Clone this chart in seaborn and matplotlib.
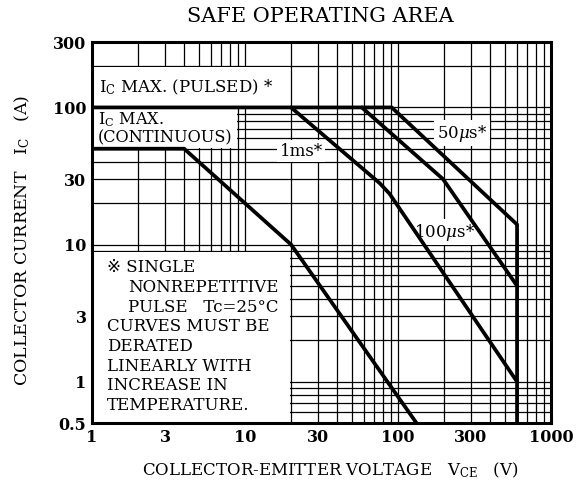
import matplotlib
matplotlib.use("Agg")
import numpy as np
import pandas as pd
import seaborn as sns
import matplotlib.pyplot as plt
from matplotlib.ticker import LogLocator, NullFormatter
from matplotlib.patches import Rectangle

# ---------------- data ----------------
boundary_v = [1, 91, 600, 600]          # Ic max (pulsed) + 50us + Vceo limit
boundary_i = [100, 100, 14, 0.5]
ms1_v = [20, 76, 88, 600]
ms1_i = [100, 28, 23.5, 1]
us100_v = [58, 197, 600]
us100_i = [100, 30, 5]
dc_v = [1, 4, 20, 132]
dc_i = [50, 50, 10, 0.5]

x_ticks = [1, 3, 10, 30, 100, 300, 1000]
y_ticks = [0.5, 1, 3, 10, 30, 100, 300]
x_tick_labels = ["1", "3", "10", "30", "100", "300", "1000"]
y_tick_labels = ["0.5", "1", "3", "10", "30", "100", "300"]

note_lines = ["※ SINGLE", "NONREPETITIVE", "PULSE   Tc=25°C", "CURVES MUST BE",
              "DERATED", "LINEARLY WITH", "INCREASE IN", "TEMPERATURE."]
note_indent = [False, True, True, False, False, False, False, False]

series = {"boundary": (boundary_v, boundary_i), "1ms": (ms1_v, ms1_i),
          "100us": (us100_v, us100_i), "dc": (dc_v, dc_i)}
df = pd.concat([pd.DataFrame({"v": v, "i": i, "s": k, "o": range(len(v))})
                for k, (v, i) in series.items()], ignore_index=True)

# ---------------- style ----------------
sns.set_theme(style="white")
plt.rcParams["font.family"] = ["DejaVu Serif", "DejaVu Sans"]
plt.rcParams["mathtext.fontset"] = "dejavuserif"
plt.rcParams["text.color"] = "black"

W, H = 582, 490
fig = plt.figure(figsize=(W / 100, H / 100), dpi=100)
L, R, T, B = 92, 551, 42, 423
ax = fig.add_axes([L / W, 1 - B / H, (R - L) / W, (B - T) / H])

def frac(px, py):
    return ((px - L) / (R - L), (B - py) / (B - T))

ax.set_xscale("log")
ax.set_yscale("log")
ax.set_xlim(1, 1000)
ax.set_ylim(0.5, 300)

for k in series:
    sub = df[df.s == k]
    sns.lineplot(data=sub, x="v", y="i", sort=False, estimator=None,
                 color="black", lw=2.7, ax=ax, zorder=3, legend=False)

ax.set_xticks(x_ticks, x_tick_labels)
ax.set_yticks(y_ticks, y_tick_labels)
ax.xaxis.set_minor_locator(LogLocator(base=10, subs=np.arange(2, 10)))
ax.yaxis.set_minor_locator(LogLocator(base=10, subs=np.arange(2, 10)))
ax.xaxis.set_minor_formatter(NullFormatter())
ax.yaxis.set_minor_formatter(NullFormatter())
ax.set_axisbelow(True)
ax.grid(which="both", color="black", lw=0.9)
ax.tick_params(which="both", length=0, labelsize=11.5, pad=4, colors="black")
for lab in ax.get_xticklabels() + ax.get_yticklabels():
    lab.set_fontweight("bold")
for s in ax.spines.values():
    s.set_color("black")
    s.set_linewidth(2.2)
    s.set_visible(True)
ax.set_xlabel("")
ax.set_ylabel("")

# white masks behind the text blocks
for (x0, x1, y0, y1) in [(1, 19.7, 102, 196), (1, 8.9, 51, 98.5), (1, 19.6, 0.5, 8.85)]:
    ax.add_patch(Rectangle((x0, y0), x1 - x0, y1 - y0, facecolor="white",
                           edgecolor="none", zorder=1))

fs = 12
ax.text(*frac(99, 87), r"I$_\mathregular{C}$ MAX. (PULSED) *", transform=ax.transAxes,
        ha="left", va="center", fontsize=fs, zorder=4)
ax.text(*frac(98, 120), r"I$_\mathregular{C}$ MAX.", transform=ax.transAxes,
        ha="left", va="center", fontsize=11.6, zorder=4)
ax.text(*frac(98, 138), "(CONTINUOUS)", transform=ax.transAxes,
        ha="left", va="center", fontsize=11.6, zorder=4)

box = dict(facecolor="white", edgecolor="none", pad=2)
ax.text(*frac(301, 151), "1ms*", transform=ax.transAxes, ha="center", va="center",
        fontsize=fs, bbox=box, zorder=2)
ax.text(*frac(462, 133), r"50$\mu$s*", transform=ax.transAxes, ha="center", va="center",
        fontsize=fs, bbox=box, zorder=2)
ax.text(*frac(445, 232), r"100$\mu$s*", transform=ax.transAxes, ha="center", va="center",
        fontsize=fs, bbox=box, zorder=2)

for n, (line, ind) in enumerate(zip(note_lines, note_indent)):
    ax.text(*frac(128 if ind else 107, 268 + n * 19.6), line, transform=ax.transAxes,
            ha="left", va="center", fontsize=fs, zorder=4)

fig.text(320 / W, 1 - 17 / H, "SAFE OPERATING AREA", ha="center", va="center", fontsize=15)
fig.text(22 / W, 1 - 240 / H, r"COLLECTOR CURRENT   I$_\mathregular{C}$   (A)", rotation=90,
         ha="center", va="center", fontsize=12.5)
fig.text(330 / W, 1 - 470 / H, r"COLLECTOR-EMITTER VOLTAGE   V$_\mathregular{CE}$   (V)",
         ha="center", va="center", fontsize=12)

fig.savefig("out.png", dpi=100, facecolor="white")
